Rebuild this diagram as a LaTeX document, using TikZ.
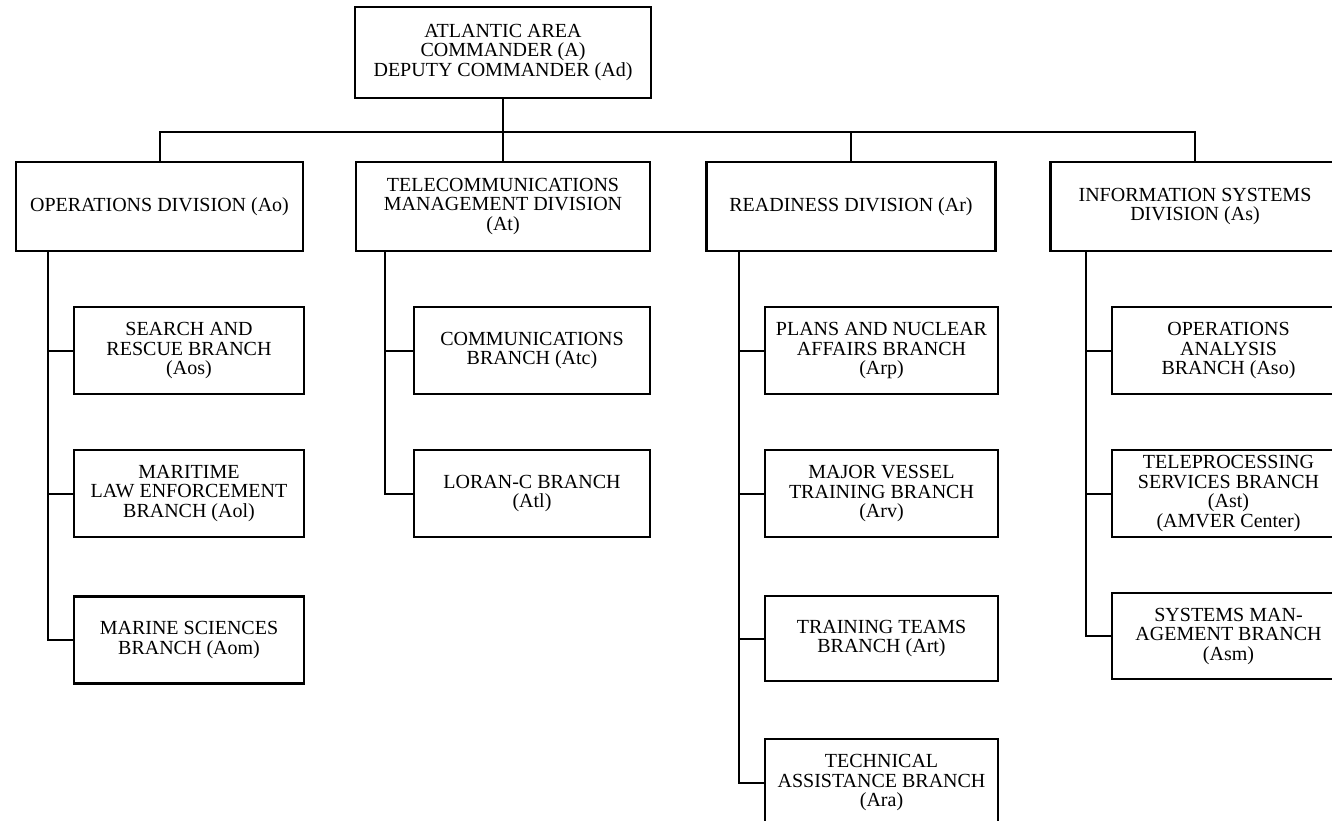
\documentclass[tikz,border=0pt]{standalone}
\usepackage{fontspec}
\setmainfont{Liberation Serif}
\begin{document}
\begin{tikzpicture}[x=1pt,y=-1pt,
  box/.style={draw, line width=2.2pt, rectangle, inner sep=0pt, align=center,
    font=\fontsize{20}{19.5}\selectfont},
  division/.style={box, minimum width=289pt, minimum height=89pt},
  branchbox/.style={box, minimum height=87pt},
  link/.style={line width=2pt, line cap=rect, line join=miter}]
  \path[use as bounding box] (0,0) rectangle (1332,820);
  \clip (0,0) rectangle (1332,820);

  % area command
  \node[box, minimum width=296pt, minimum height=91pt] (top) at (503,52.5)
    {ATLANTIC AREA\\COMMANDER (A)\\DEPUTY COMMANDER (Ad)};

  % divisions
  \node[division, minimum width=287pt] (ops) at (159.5,206.5) {OPERATIONS DIVISION (Ao)};
  \node[division, minimum width=294pt] (tel) at (503,206.5)
    {TELECOMMUNICATIONS\\MANAGEMENT DIVISION\\(At)};
  \node[division] (rdy) at (851,206.5) {READINESS DIVISION (Ar)};
  \node[division] (inf) at (1195,206.5) {INFORMATION SYSTEMS\\DIVISION (As)};

  % operations branches
  \node[branchbox, minimum width=230pt] (aos) at (189,350.5) {SEARCH AND\\RESCUE BRANCH\\(Aos)};
  \node[branchbox, minimum width=230pt] (aol) at (189,493.5) {MARITIME\\LAW ENFORCEMENT\\BRANCH (Aol)};
  \node[branchbox, minimum width=230pt] (aom) at (189,640) {MARINE SCIENCES\\BRANCH (Aom)};

  % telecommunications branches
  \node[branchbox, minimum width=236pt] (atc) at (532,350.5) {COMMUNICATIONS\\BRANCH (Atc)};
  \node[branchbox, minimum width=236pt] (atl) at (532,493.5) {LORAN-C BRANCH\\(Atl)};

  % readiness branches
  \node[branchbox, minimum width=233pt] (arp) at (881.5,350.5) {PLANS AND NUCLEAR\\AFFAIRS BRANCH\\(Arp)};
  \node[branchbox, minimum width=233pt] (arv) at (881.5,493.5) {MAJOR VESSEL\\TRAINING BRANCH\\(Arv)};
  \node[branchbox, minimum width=233pt, minimum height=85pt] (art) at (881.5,638.5) {TRAINING TEAMS\\BRANCH (Art)};
  \node[branchbox, minimum width=233pt] (ara) at (881.5,782.5) {TECHNICAL\\ASSISTANCE BRANCH\\(Ara)};

  % information systems branches
  \node[branchbox, minimum width=233pt] (aso) at (1228.5,350.5) {OPERATIONS\\ANALYSIS\\BRANCH (Aso)};
  \node[branchbox, minimum width=233pt] (ast) at (1228.5,493.5)
    {TELEPROCESSING\\SERVICES BRANCH\\(Ast)\\(AMVER Center)};
  \node[branchbox, minimum width=233pt, minimum height=86pt] (asm) at (1228.5,636) {SYSTEMS MAN-\\AGEMENT BRANCH\\(Asm)};

  % bus and spines
  \coordinate (bus) at (0,132);
  \coordinate (spO) at (48,0);
  \coordinate (spT) at (385,0);
  \coordinate (spR) at (739,0);
  \coordinate (spI) at (1086,0);

  % top-level connectors
  \draw[link] (top.south) -- (tel.north);
  \draw[link] (ops.north) -- (ops.north |- bus) -- (inf.north |- bus) -- (inf.north);
  \draw[link] (rdy.north) -- (rdy.north |- bus);

  % branch connectors
  \draw[link] (spO |- ops.south) |- (aom.west);
  \draw[link] (spO |- aos.west) -- (aos.west);
  \draw[link] (spO |- aol.west) -- (aol.west);

  \draw[link] (spT |- tel.south) |- (atl.west);
  \draw[link] (spT |- atc.west) -- (atc.west);

  \draw[link] (spR |- rdy.south) |- (ara.west);
  \draw[link] (spR |- arp.west) -- (arp.west);
  \draw[link] (spR |- arv.west) -- (arv.west);
  \draw[link] (spR |- art.west) -- (art.west);

  \draw[link] (spI |- inf.south) |- (asm.west);
  \draw[link] (spI |- aso.west) -- (aso.west);
  \draw[link] (spI |- ast.west) -- (ast.west);
\end{tikzpicture}
\end{document}
